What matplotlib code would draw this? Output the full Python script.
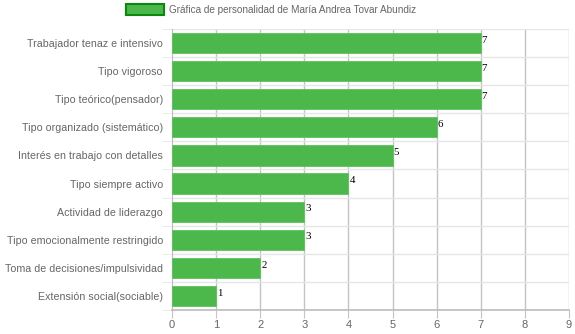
import matplotlib.pyplot as plt
from matplotlib.patches import Patch

# Personality profile scores
rasgos = [
    "Trabajador tenaz e intensivo",
    "Tipo vigoroso",
    "Tipo teórico(pensador)",
    "Tipo organizado (sistemático)",
    "Interés en trabajo con detalles",
    "Tipo siempre activo",
    "Actividad de liderazgo",
    "Tipo emocionalmente restringido",
    "Toma de decisiones/impulsividad",
    "Extensión social(sociable)",
]
puntajes = [7, 7, 7, 6, 5, 4, 3, 3, 2, 1]
titulo_serie = "Gráfica de personalidad de María Andrea Tovar Abundiz"

verde = "#4cb84c"
borde = "#0a8a0a"

plt.rcParams['font.family'] = ['Liberation Sans', 'DejaVu Sans']

fig = plt.figure(figsize=(5.75, 3.34), dpi=100)
ax = fig.add_axes([172 / 575, 1 - 310 / 334, 397 / 575, 281 / 334])

pos = list(range(len(rasgos)))
ax.barh(pos, puntajes, height=0.72, color=verde, edgecolor="#5cc45c", linewidth=0.6, zorder=3)

for y, v in zip(pos, puntajes):
    ax.text(v + 0.02, y - 0.1, str(v), fontsize=7.8, family='Liberation Serif',
            color='black', va='center', ha='left', zorder=4)

ax.set_xlim(0, 9)
ax.set_ylim(len(rasgos) - 0.5, -0.5)
ax.set_xticks(range(10))
ax.set_yticks(pos)
ax.set_yticklabels(rasgos)

# grid: vertical lines at integers, horizontal lines between categories
for x in range(1, 10):
    ax.axvline(x, color='#c4c4c4', linewidth=1, zorder=1)
for b in range(0, len(rasgos)):
    ax.axhline(b - 0.5, color='#e6e6e6', linewidth=1, zorder=1)

for s in ['top', 'right']:
    ax.spines[s].set_visible(False)
ax.spines['left'].set_color('#bbbbbb')
ax.spines['bottom'].set_color('#bbbbbb')
ax.spines['bottom'].set_linewidth(1.2)

ax.tick_params(axis='x', colors='#666666', labelsize=8, length=6, color='#c4c4c4', pad=1)
ax.tick_params(axis='y', colors='#666666', labelsize=7.7, length=0, pad=6.5)
ax.set_yticks([b - 0.5 for b in range(len(rasgos) + 1)], minor=True)
ax.tick_params(axis='y', which='minor', length=7, color='#e6e6e6')

leg = fig.legend(handles=[Patch(facecolor=verde, edgecolor=borde, linewidth=1.5, label=titulo_serie)],
                 loc='upper center', bbox_to_anchor=(0.472, 1.015), frameon=False,
                 fontsize=7.2, handlelength=3.8, handleheight=1.3, handletextpad=0.5)
for t in leg.get_texts():
    t.set_color('#666666')

fig.savefig('out.png', dpi=100)
